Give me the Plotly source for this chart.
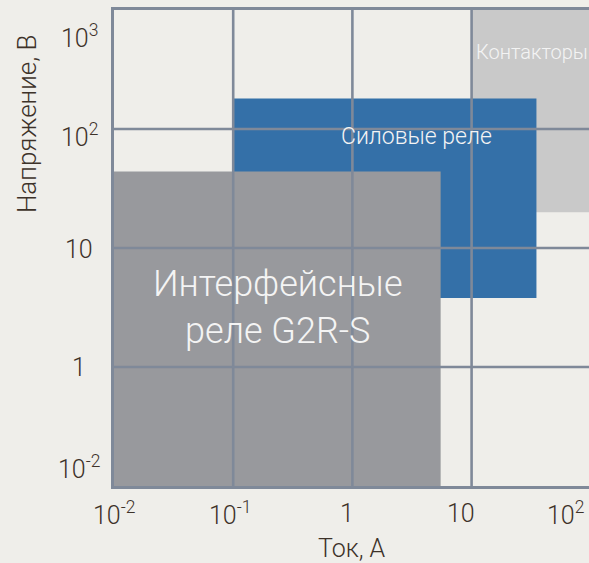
import math
import plotly.graph_objects as go

# ---- data ----
x_tick_values = [0.01, 0.1, 1, 10, 100]
x_tick_labels = ["10<sup>-2</sup>", "10<sup>-1</sup>", "1", "10", "10<sup>2</sup>"]
y_tick_values = [0.01, 1, 10, 100, 1000]
y_tick_labels = ["10<sup>-2</sup>", "1", "10", "10<sup>2</sup>", "10<sup>3</sup>"]

region_names = ["Контакторы", "Силовые реле", "Интерфейсные<br>реле G2R-S"]
current_min = [10, 0.1, 0.01]     # A
current_max = [100, 35, 5.5]      # A
voltage_min = [20, 3.8, 0.01]     # V
voltage_max = [1000, 180, 44]     # V
region_colors = ["#c9c9c9", "#3470a8", "#98999d"]

# ---- scales ----
def xm(v):
    return math.log10(v)

def ym(v):
    # the lowest cell spans two decades (10^-2 .. 1)
    lv = math.log10(v)
    return 1 + lv if v >= 1 else 1 + lv / 2

BG = "#efeeea"
GRID = "#7f8999"
TXT = "#3d3229"
FONT = "Roboto"

W, H = 589, 563
ML, MR, MT, MB = 114, 0, 10, 77
xr = [-2, 1.985]
yr = [0, 4]
px_per_x = (W - ML - MR) / (xr[1] - xr[0])

fig = go.Figure()
for name, x0, x1, y0, y1, c in zip(region_names, current_min, current_max,
                                    voltage_min, voltage_max, region_colors):
    X0, X1, Y0, Y1 = xm(x0), xm(x1), ym(y0), ym(y1)
    fig.add_trace(go.Scatter(x=[X0, X1, X1, X0, X0], y=[Y0, Y0, Y1, Y1, Y0],
                             mode="lines", fill="toself", fillcolor=c,
                             line=dict(width=0), hoverinfo="skip",
                             showlegend=False, name=name.replace("<br>", " ")))

shapes = []
for v in x_tick_values[1:-1]:
    shapes.append(dict(type="line", xref="x", yref="y", x0=xm(v), x1=xm(v),
                       y0=yr[0], y1=yr[1], layer="above",
                       line=dict(color=GRID, width=2.6)))
for v in y_tick_values[1:-1]:
    shapes.append(dict(type="line", xref="x", yref="y", x0=xr[0], x1=xr[1],
                       y0=ym(v), y1=ym(v), layer="above",
                       line=dict(color=GRID, width=2.6)))

ann = []
x_shifts = [0, -3, -5, -11, -25]
for v, t, s in zip(x_tick_values, x_tick_labels, x_shifts):
    xv = xm(v)
    if xv > xr[1]:
        s += (xv - xr[1]) * px_per_x
        xv = xr[1]
    ann.append(dict(x=xv, y=0, xref="x", yref="paper", text=t, showarrow=False,
                    xanchor="center", yanchor="middle", xshift=s, yshift=-27,
                    font=dict(family=FONT, size=25, color=TXT, weight=300)))
y_shifts = [19, 0, -1, -6, -26]
for v, t, s in zip(y_tick_values, y_tick_labels, y_shifts):
    ann.append(dict(x=0, y=ym(v), xref="paper", yref="y", text=t, showarrow=False,
                    xanchor="center", yanchor="middle", xshift=-35, yshift=s,
                    font=dict(family=FONT, size=25, color=TXT, weight=300)))

ann.append(dict(x=0.501, y=0, xref="paper", yref="paper", text="Ток, А",
                showarrow=False, xanchor="center", yanchor="middle", yshift=-62,
                font=dict(family=FONT, size=25, color=TXT, weight=300)))
ann.append(dict(x=-0.183, y=0.7605, xref="paper", yref="paper", text="Напряжение, В",
                showarrow=False, xanchor="center", yanchor="middle", textangle=-90,
                font=dict(family=FONT, size=26, color=TXT, weight=300)))

# region labels
ann.append(dict(x=1.02, y=3.647, xref="x", yref="y", text=region_names[0],
                showarrow=False, xanchor="left", yanchor="middle",
                font=dict(family=FONT, size=20, color="#f4f4f4", weight=300)))
ann.append(dict(x=0.534, y=2.933, xref="x", yref="y", text=region_names[1],
                showarrow=False, xanchor="center", yanchor="middle",
                font=dict(family=FONT, size=23, color="#f4f4f4", weight=300)))
ann.append(dict(x=-0.624, y=1.5, xref="x", yref="y", text=region_names[2],
                showarrow=False, xanchor="center", yanchor="middle",
                font=dict(family=FONT, size=36, color="#f4f4f4", weight=300)))

fig.update_layout(
    width=W, height=H,
    margin=dict(l=ML, r=MR, t=MT, b=MB),
    paper_bgcolor=BG, plot_bgcolor=BG,
    shapes=shapes, annotations=ann, showlegend=False,
    xaxis=dict(range=xr, showgrid=False, zeroline=False, showticklabels=False,
               ticks="", showline=True, mirror=True, linecolor=GRID, linewidth=2.6,
               fixedrange=True),
    yaxis=dict(range=yr, showgrid=False, zeroline=False, showticklabels=False,
               ticks="", showline=True, mirror=False, linecolor=GRID, linewidth=2.6,
               fixedrange=True),
)
fig.write_html("out.html", config={"displayModeBar": False},
               post_script="document.body.style.margin='0';"
                           "document.body.style.overflow='hidden';"
                           "document.body.style.background='#efeeea';")
